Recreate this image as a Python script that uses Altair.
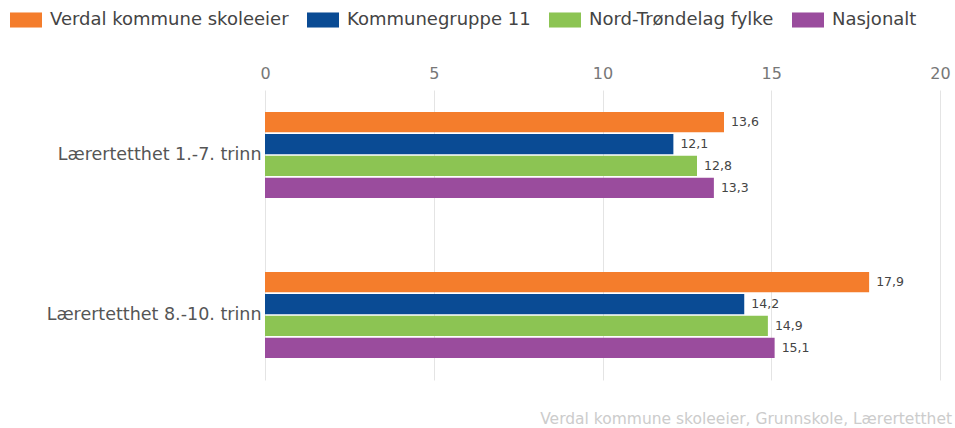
import altair as alt
import pandas as pd

categories = ["Lærertetthet 1.-7. trinn", "Lærertetthet 8.-10. trinn"]
series = ["Verdal kommune skoleeier", "Kommunegruppe 11", "Nord-Trøndelag fylke", "Nasjonalt"]
values_1_7 = [13.6, 12.1, 12.8, 13.3]
values_8_10 = [17.9, 14.2, 14.9, 15.1]
colors = ["#F47D2C", "#0A4B94", "#8CC453", "#9A4C9D"]
x_ticks = [0, 5, 10, 15, 20]

rows = []
for cat, vals in zip(categories, [values_1_7, values_8_10]):
    for i, (s, v) in enumerate(zip(series, vals)):
        rows.append({"kategori": cat, "serie": s, "order": i, "verdi": v,
                     "label": f"{v:.1f}".replace(".", ",")})
df = pd.DataFrame(rows)

FONT = "DejaVu Sans"

base = alt.Chart(df).encode(
    y=alt.Y("kategori:N", sort=categories, title=None,
            scale=alt.Scale(paddingInner=0.4625, paddingOuter=0.1375),
            axis=alt.Axis(labelFontSize=17.5, labelColor="#555555", labelFont=FONT,
                          ticks=False, domain=False, labelPadding=4, labelLimit=300)),
    yOffset=alt.YOffset("serie:N", sort=series,
                        scale=alt.Scale(paddingInner=0.07, paddingOuter=0)),
)

bars = base.mark_bar().encode(
    x=alt.X("verdi:Q", title=None,
            scale=alt.Scale(domain=[0, 20], nice=False),
            axis=alt.Axis(orient="top", values=x_ticks, labelFontSize=16,
                          labelColor="#777777", labelFont=FONT, ticks=False,
                          domain=False, grid=True, gridColor="#e4e4e4",
                          labelPadding=9, labelFlush=False)),
    color=alt.Color("serie:N", sort=series,
                    scale=alt.Scale(domain=series, range=colors),
                    legend=alt.Legend(title=None, orient="none", direction="horizontal",
                                      columns=4, legendX=-255, legendY=-86,
                                      symbolType="M-1,-0.47H1V0.47H-1Z",
                                      symbolSize=1024, symbolStrokeWidth=0,
                                      labelFontSize=18, labelFont=FONT,
                                      labelColor="#444444", columnPadding=18,
                                      labelOffset=8, labelLimit=400)),
)

labels = base.mark_text(align="left", baseline="middle", dx=7, fontSize=12.5,
                        font=FONT, color="#444444").encode(
    x="verdi:Q",
    text="label:N",
)

chart = (bars + labels).properties(
    width=675, height=290,
    title=alt.TitleParams("Verdal kommune skoleeier, Grunnskole, Lærertetthet",
                          orient="bottom", anchor="end", frame="group",
                          fontSize=15.5, font=FONT, color="#cccccc",
                          fontWeight="normal", offset=32, dx=12),
    autosize=alt.AutoSizeParams(type="none"),
    padding={"left": 265, "top": 90, "right": 15, "bottom": 48},
).configure(background="white").configure_view(stroke=None)

chart.save("out.html", embed_options={"renderer": "svg", "actions": False})
